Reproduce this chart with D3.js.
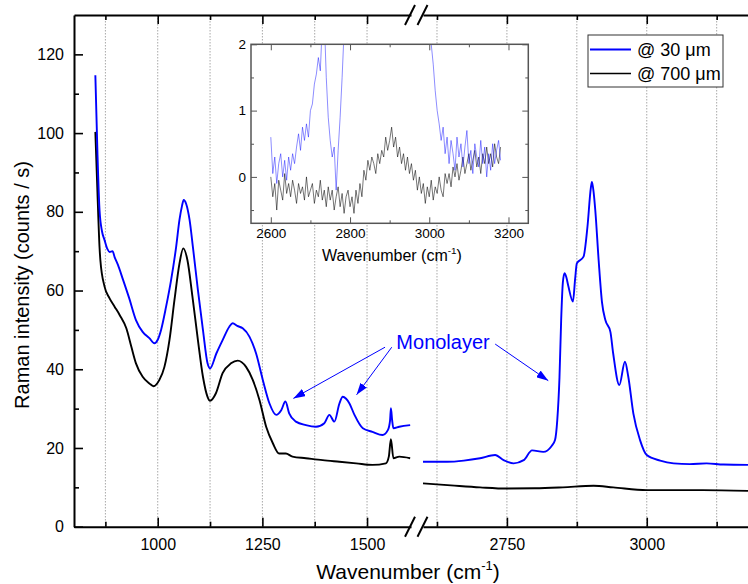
<!DOCTYPE html>
<html>
<head>
<meta charset="utf-8">
<script src="https://cdn.jsdelivr.net/npm/d3@7"></script>
<style>
  body { margin: 0; background: #fff; }
  svg { font-family: "Liberation Sans", Arial, sans-serif; }
</style>
</head>
<body>
<svg id="chart" width="748" height="584"></svg>
<script>
// ---- data ----
// main plot, left part (wavenumber, counts/s)
const blueLeft = [[851, 114.7], [856, 95], [861, 80.4], [867, 75], [873, 72.8], [880, 70.5], [885, 69.8], [892, 70.0],
  [897, 68.5], [905, 66.5], [916, 63.1], [932, 58.0], [948, 52.5], [964, 49.5], [980, 47.9], [992, 46.6], [1000, 47.5],
  [1008, 50], [1020, 55.9], [1032, 62.7], [1044, 71.1], [1052, 78], [1058, 81.5], [1062, 83.0], [1068, 82], [1076, 78],
  [1084, 71.1], [1096, 60.1], [1108, 50.0], [1119, 41.5], [1125, 40.2], [1140, 44.0], [1155, 47.4], [1171, 50.8],
  [1179, 51.7], [1190, 51], [1203, 50.4], [1219, 48.3], [1235, 44.0], [1251, 37.3], [1267, 31.3], [1283, 28.4],
  [1295, 29.6], [1305, 31.8], [1314, 28.8], [1330, 26.7], [1354, 25.8], [1378, 25.4], [1398, 26.3], [1410, 28.4],
  [1422, 26.7], [1434, 31.3], [1442, 33.0], [1450, 32.5], [1458, 31.3], [1470, 28.4], [1490, 25.0], [1513, 24.1],
  [1537, 23.3], [1550, 24.6], [1555, 27], [1557, 30.1], [1560, 27], [1563, 25.0], [1577, 25.4], [1603, 25.8]]
const blackLeft = [[851, 100.3], [856, 85], [861, 71], [863, 67.7], [873, 61.0], [885, 58.0], [897, 55.9], [909, 53.8],
  [925, 50.4], [937, 45.7], [948, 41.5], [964, 38.1], [980, 36.4], [990, 35.7], [1004, 37.3], [1016, 40.6], [1028, 47.4],
  [1040, 57.6], [1052, 66.9], [1061, 70.7], [1071, 67.7], [1083, 58.4], [1096, 47.4], [1108, 38.1], [1119, 33.0],
  [1125, 32.0], [1139, 33.9], [1155, 39.0], [1175, 41.5], [1191, 42.2], [1211, 40.6], [1227, 37.3], [1243, 32.2],
  [1259, 25.4], [1275, 21.2], [1290, 18.6], [1306, 18.6], [1322, 17.8], [1354, 17.4], [1394, 16.9], [1434, 16.5],
  [1474, 16.1], [1513, 15.7], [1545, 16.1], [1552, 17.8], [1557, 22.2], [1563, 17.4], [1577, 17.8], [1603, 17.4]]
// main plot, right part
const blueRight = [[2600, 16.5], [2643, 16.5], [2673, 16.8], [2702, 17.4], [2729, 18.2], [2744, 16.9], [2762, 16.1],
  [2780, 16.9], [2795, 19.4], [2815, 19.0], [2830, 20.5], [2836, 22], [2840, 27], [2844, 38], [2847, 52.5], [2850, 62],
  [2853, 64.4], [2856, 63.5], [2860, 61.0], [2868, 57.2], [2872, 63], [2875, 66.9], [2887, 68.6], [2894, 76.2],
  [2900, 86], [2902, 87.6], [2905, 85], [2908, 80.4], [2914, 67.7], [2920, 57], [2926, 52.5], [2935, 49.5], [2940, 44.0],
  [2951, 36.0], [2961, 41.9], [2967, 38.1], [2976, 28.8], [2988, 22.0], [3000, 18.2], [3024, 16.8], [3048, 16.1],
  [3077, 15.9], [3107, 16.1], [3137, 15.8], [3181, 15.7]]
const blackRight = [[2600, 11.0], [2650, 10.5], [2702, 10.0], [2750, 9.7], [2800, 9.75], [2850, 10.0], [2905, 10.4],
  [2940, 10.0], [3000, 9.3], [3100, 9.3], [3181, 9.1]]

// inset: one value every 5 cm-1 starting at 2600
const insetStart = 2600, insetStep = 5
const insetBlue = [0.6, 0.05, 0.3, -0.1, 0.2, 0.35, 0.0, 0.25, -0.05, 0.3,
  0.1, 0.35, 0.2, 0.45, 0.65, 0.4, 0.75, 0.55, 0.8, 0.6,
  1.0, 1.1, 1.4, 1.55, 1.8, 1.6, 2.3, 2.4, 1.5, 0.9,
  0.55, 0.3, 0.45, -0.2, 0.4, 0.9, 1.5, 2.2, 3.0, 3.4,
  3.2, 3.0, 3.3, 3.0, 3.5, 4.0, 4.7, 8, 18, 32,
  45, 48, 45, 42, 46, 51, 52, 53, 58, 64,
  70, 68, 58, 45, 40, 37, 35, 32, 28, 24,
  20, 24, 26, 24, 18, 13, 9, 6, 4.5, 3.2,
  2.4, 2.0, 1.7, 1.3, 1.0, 0.8, 0.55, 0.75, 0.35, 0.6,
  0.2, 0.55, 0.35, 0.1, 0.6, 0.3, 0.5, 0.15, 0.45, 0.7,
  0.2, 0.4, 0.05, 0.5, 0.3, 0.15, 0.55, 0.2, 0.45, 0.0,
  0.35, 0.1, 0.5, 0.2, 0.4, 0.55, 0.25]
const insetBlack = [0.0, -0.3, -0.1, -0.5, -0.05, -0.2, -0.35, 0.05, -0.25, -0.1,
  -0.3, -0.05, -0.2, -0.4, -0.1, -0.25, -0.15, -0.35, 0.0, -0.3,
  -0.2, -0.1, -0.4, -0.2, -0.3, -0.05, -0.35, -0.2, -0.45, -0.15,
  -0.35, -0.2, -0.5, -0.3, -0.15, -0.45, -0.25, -0.55, -0.3, -0.2,
  -0.45, -0.3, -0.55, -0.2, -0.4, -0.1, -0.3, 0.1, -0.05, 0.25,
  0.1, 0.3, 0.2, 0.05, 0.35, 0.2, 0.4, 0.3, 0.6, 0.4,
  0.55, 0.75, 0.45, 0.6, 0.3, 0.45, 0.2, 0.35, 0.1, 0.3,
  0.05, 0.2, -0.05, 0.1, -0.2, 0.0, -0.25, -0.1, -0.4, -0.15,
  -0.3, -0.05, -0.35, -0.15, -0.25, 0.0, -0.2, -0.3, 0.05, -0.1,
  0.05, -0.15, 0.15, 0.0, 0.2, -0.05, 0.1, 0.3, 0.05, 0.2,
  0.35, 0.1, 0.25, 0.4, 0.15, 0.3, 0.05, 0.35, 0.2, 0.45,
  0.2, 0.35, 0.15, 0.5, 0.3, 0.2, 0.45]

// ticks
const xLMajor = [1000, 1250, 1500], xLMinor = [875, 1125, 1375]
const xRMajor = [2750, 3000], xRMinor = [2625, 2875, 3125]
const yMajor = [0, 20, 40, 60, 80, 100, 120], yMinor = [10, 30, 50, 70, 90, 110]
const insetXMajor = [2600, 2800, 3000, 3200], insetXMinor = [2700, 2900, 3100]
const insetYMajor = [0, 1, 2], insetYMinor = [-0.5, 0.5, 1.5]

const seriesNames = ['@ 30 μm', '@ 700 μm']
const seriesColors = ['#0000ff', '#000000']
const annotationText = 'Monolayer'
// arrows: [segment, from wn, from value, to wn, to value]
const arrows = [['L', 1543, 45.6, 1324, 32.6], ['L', 1559, 45.6, 1475, 33.5], ['R', 2729, 46.4, 2824, 37.1]]

// ---- layout ----
const svg = d3.select('#chart')
const plotTop = 15, plotBottom = 526.7
const xL = d3.scaleLinear().domain([800, 1605]).range([74, 411])
const xR = d3.scaleLinear().domain([2600, 3181]).range([423, 748])
const y = d3.scaleLinear().domain([0, 130]).range([plotBottom, plotTop])

// dotted vertical grid
const grid = svg.append('g')
function gridLine (xpos) {
  grid.append('line').attr('x1', xpos).attr('x2', xpos).attr('y1', plotTop).attr('y2', plotBottom)
    .attr('stroke', '#a8a8a8').attr('stroke-width', 1).attr('stroke-dasharray', '1.5,1.5')
}
xLMajor.concat(xLMinor).forEach(v => gridLine(xL(v)))
xRMajor.concat(xRMinor).forEach(v => gridLine(xR(v)))

function styleAxis (g, fontSize) {
  g.attr('font-family', null).attr('font-size', fontSize)
  g.selectAll('path.domain').attr('stroke-width', 2)
  g.selectAll('.tick line').attr('stroke-width', 1.6)
  g.selectAll('.tick text').attr('fill', '#000')
}

// x axes (bottom + top), two segments each
function xAxes (scale, major, minor) {
  var b = svg.append('g').attr('transform', `translate(0,${plotBottom})`)
    .call(d3.axisBottom(scale).tickValues(major).tickSize(-9).tickSizeOuter(0).tickPadding(12).tickFormat(d3.format('d')))
  styleAxis(b, 16)
  var bm = svg.append('g').attr('transform', `translate(0,${plotBottom})`)
    .call(d3.axisBottom(scale).tickValues(minor).tickSize(-5).tickFormat(''))
  bm.select('path.domain').remove()
  styleAxis(bm, 16)
  var t = svg.append('g').attr('transform', `translate(0,${plotTop})`)
    .call(d3.axisTop(scale).tickValues(major).tickSize(-9).tickSizeOuter(0).tickFormat(''))
  styleAxis(t, 16)
  var tm = svg.append('g').attr('transform', `translate(0,${plotTop})`)
    .call(d3.axisTop(scale).tickValues(minor).tickSize(-5).tickFormat(''))
  tm.select('path.domain').remove()
  styleAxis(tm, 16)
}
xAxes(xL, xLMajor, xLMinor)
xAxes(xR, xRMajor, xRMinor)

var yl = svg.append('g').attr('transform', `translate(${xL.range()[0]},0)`)
  .call(d3.axisLeft(y).tickValues(yMajor).tickSize(-9).tickSizeOuter(0).tickPadding(10))
styleAxis(yl, 16)
var ylm = svg.append('g').attr('transform', `translate(${xL.range()[0]},0)`)
  .call(d3.axisLeft(y).tickValues(yMinor).tickSize(-5).tickFormat(''))
ylm.select('path.domain').remove()
styleAxis(ylm, 16)

// axis break marks "//"
;[xL.range()[1] - 1, xR.range()[0] - 0.5].forEach(cx => {
  ;[plotTop, plotBottom].forEach(cy => {
    svg.append('line').attr('x1', cx - 5).attr('y1', cy + 10).attr('x2', cx + 5).attr('y2', cy - 10)
      .attr('stroke', '#000').attr('stroke-width', 2)
  })
})

// curves
function lineFor (xs, yScale) {
  return d3.line().x(d => xs(d[0])).y(d => yScale(d[1])).curve(d3.curveMonotoneX)
}
const curves = [[blackLeft, xL, 1], [blackRight, xR, 1], [blueLeft, xL, 0], [blueRight, xR, 0]]
curves.forEach(c => {
  svg.append('path').datum(c[0]).attr('d', lineFor(c[1], y))
    .attr('fill', 'none').attr('stroke', seriesColors[c[2]]).attr('stroke-width', 1.9)
    .attr('stroke-linejoin', 'round')
})

// axis titles
function cmLabel (sel, fontSize) {
  sel.append('tspan').text('Wavenumber (cm')
  sel.append('tspan').text('-1').attr('font-size', fontSize * 0.62).attr('dy', -fontSize * 0.42)
  sel.append('tspan').text(')').attr('dy', fontSize * 0.42)
}
var xt = svg.append('text').attr('x', 408).attr('y', 579).attr('text-anchor', 'middle')
  .attr('font-size', 21).attr('fill', '#000')
cmLabel(xt, 21)
svg.append('text').attr('transform', 'translate(29,285) rotate(-90)').attr('text-anchor', 'middle')
  .attr('font-size', 20).attr('fill', '#000').text('Raman intensity (counts / s)')

// annotation
svg.append('defs').append('marker').attr('id', 'arrowhead')
  .attr('viewBox', '0 0 12 8').attr('refX', 12).attr('refY', 4)
  .attr('markerWidth', 12).attr('markerHeight', 8).attr('markerUnits', 'userSpaceOnUse').attr('orient', 'auto')
  .append('path').attr('d', 'M0,0L12,4L0,8Z').attr('fill', '#0000ff')
arrows.forEach(a => {
  var xs = a[0] === 'L' ? xL : xR
  svg.append('line').attr('x1', xs(a[1])).attr('y1', y(a[2])).attr('x2', xs(a[3])).attr('y2', y(a[4]))
    .attr('stroke', '#0000ff').attr('stroke-width', 1).attr('marker-end', 'url(#arrowhead)')
})
svg.append('text').attr('x', xL(1570)).attr('y', y(45.1)).attr('font-size', 20).attr('fill', '#0000ff').text(annotationText)

// legend
const lg = svg.append('g').attr('transform', 'translate(588,35)')
lg.append('rect').attr('width', 135).attr('height', 52).attr('fill', '#fff').attr('stroke', '#333').attr('stroke-width', 1)
seriesNames.forEach((s, i) => {
  lg.append('line').attr('x1', 2).attr('x2', 43).attr('y1', 14.5 + i * 24).attr('y2', 14.5 + i * 24)
    .attr('stroke', seriesColors[i]).attr('stroke-width', i === 0 ? 2 : 1.5)
  lg.append('text').attr('x', 49).attr('y', 21 + i * 24).attr('font-size', 18).attr('fill', '#000').text(s)
})

// ---- inset ----
const ix = d3.scaleLinear().domain([2550, 3250]).range([251, 528.3])
const iy = d3.scaleLinear().domain([-0.7, 2]).range([223.3, 44.3])
const inset = svg.append('g')
inset.append('rect').attr('x', 251).attr('y', 44.3).attr('width', 277.3).attr('height', 179).attr('fill', '#fff')
inset.append('clipPath').attr('id', 'insetClip').append('rect')
  .attr('x', 251).attr('y', 44.3).attr('width', 277.3).attr('height', 179)
const insetLine = d3.line().x((d, i) => ix(insetStart + i * insetStep)).y(d => iy(d))
inset.append('path').datum(insetBlack).attr('d', insetLine).attr('clip-path', 'url(#insetClip)')
  .attr('fill', 'none').attr('stroke', 'rgba(0,0,0,0.6)').attr('stroke-width', 0.9)
inset.append('path').datum(insetBlue).attr('d', insetLine).attr('clip-path', 'url(#insetClip)')
  .attr('fill', 'none').attr('stroke', 'rgba(0,0,255,0.5)').attr('stroke-width', 0.9)

function insetAxis (axis, tx, ty) {
  var g = inset.append('g').attr('transform', `translate(${tx},${ty})`).call(axis)
  g.attr('font-family', null).attr('font-size', 13.5)
  g.selectAll('path.domain').remove()
  g.selectAll('.tick line').attr('stroke', '#555').attr('stroke-width', 1)
  g.selectAll('.tick text').attr('fill', '#000')
  return g
}
const fmtInt = d3.format('d')
insetAxis(d3.axisBottom(ix).tickValues(insetXMajor).tickSize(-6).tickPadding(5).tickFormat(fmtInt), 0, 223.3)
insetAxis(d3.axisBottom(ix).tickValues(insetXMinor).tickSize(-3).tickFormat(''), 0, 223.3)
insetAxis(d3.axisTop(ix).tickValues(insetXMajor).tickSize(-6).tickFormat(''), 0, 44.3)
insetAxis(d3.axisTop(ix).tickValues(insetXMinor).tickSize(-3).tickFormat(''), 0, 44.3)
insetAxis(d3.axisLeft(iy).tickValues(insetYMajor).tickSize(-6).tickPadding(5).tickFormat(fmtInt), 251, 0)
insetAxis(d3.axisLeft(iy).tickValues(insetYMinor).tickSize(-3).tickFormat(''), 251, 0)
insetAxis(d3.axisRight(iy).tickValues(insetYMajor).tickSize(-6).tickFormat(''), 528.3, 0)
insetAxis(d3.axisRight(iy).tickValues(insetYMinor).tickSize(-3).tickFormat(''), 528.3, 0)
inset.append('rect').attr('x', 251).attr('y', 44.3).attr('width', 277.3).attr('height', 179)
  .attr('fill', 'none').attr('stroke', '#555').attr('stroke-width', 1.5)
var it = inset.append('text').attr('x', 392).attr('y', 261).attr('text-anchor', 'middle')
  .attr('font-size', 16).attr('fill', '#000')
cmLabel(it, 16)
</script>
</body>
</html>
